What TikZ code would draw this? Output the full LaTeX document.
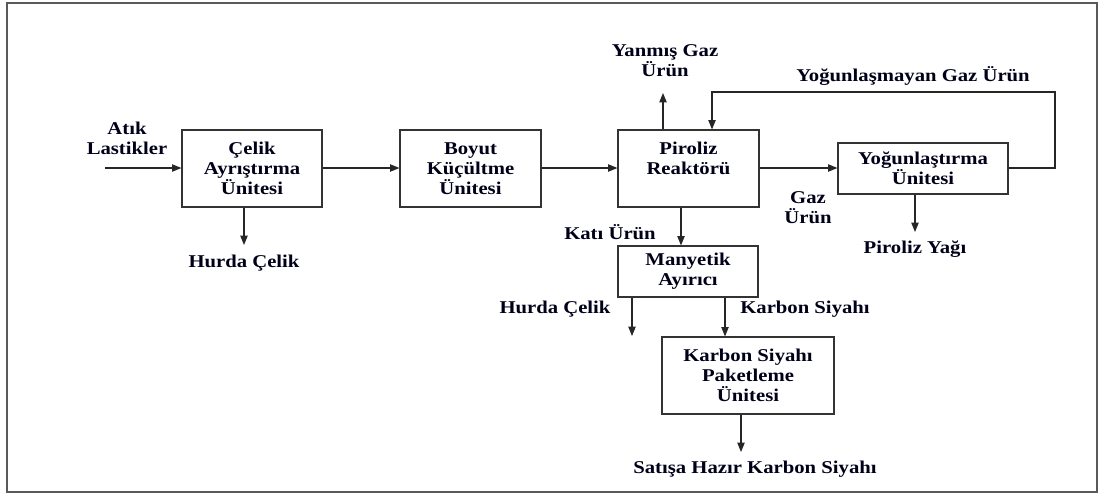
\documentclass[tikz,border=0pt]{standalone}
\usepackage{fontspec}
\setmainfont{Liberation Serif}[FakeStretch=1.15]
\usetikzlibrary{arrows.meta}
\newlength\pxu
\setlength\pxu{0.75pt}
\begin{document}
\begin{tikzpicture}[x=0.75pt,y=-0.75pt,
  every node/.style={font=\fontsize{13.5}{15}\selectfont\bfseries, text=black!90!blue, align=center, inner sep=0pt},
  unit/.style={draw=black!80, line width=0.9pt, fill=white},
  arr/.style={draw=black!85, line width=0.8pt, -{Triangle[length=7pt,width=5.5pt]}},
  lbl/.style={}]
\useasboundingbox (0,0) rectangle (1099,494);
\draw[black!65, line width=1pt] (7,3) rectangle (1097,492);

% units
\node[unit, minimum width=140\pxu, minimum height=77\pxu] (celik) at (252,168.5) {Çelik\\Ayrıştırma\\Ünitesi};
\node[unit, minimum width=141\pxu, minimum height=77\pxu] (boyut) at (470.5,168.5) {Boyut\\Küçültme\\Ünitesi};
\node[unit, minimum width=141\pxu, minimum height=77\pxu] (pir) at (688.5,168.5) {Piroliz\\Reaktörü\\\mbox{}};
\node[unit, minimum width=170\pxu, minimum height=51\pxu] (yog) at (923,168.5) {Yoğunlaştırma\\Ünitesi};
\node[unit, minimum width=140\pxu, minimum height=51\pxu] (many) at (688,271.5) {Manyetik\\Ayırıcı};
\node[unit, minimum width=172\pxu, minimum height=77\pxu] (ks) at (748,375.5) {Karbon Siyahı\\Paketleme\\Ünitesi};

% labels
\node[lbl] (atik) at (127,138) {Atık\\Lastikler};
\node[lbl] (hurda1) at (244,263) {Hurda Çelik};
\node[lbl] (yanmis) at (665,60.5) {Yanmış Gaz\\Ürün};
\node[lbl] (kati) at (610,232) {Katı Ürün};
\node[lbl] (gaz) at (808,208) {Gaz\\Ürün};
\node[lbl] (yogmayan) at (913,76) {Yoğunlaşmayan Gaz Ürün};
\node[lbl] (yag) at (915,249) {Piroliz Yağı};
\node[lbl] (hurda2) at (555,309) {Hurda Çelik};
\node[lbl] (karbon) at (805,309) {Karbon Siyahı};
\node[lbl] (satis) at (755,469) {Satışa Hazır Karbon Siyahı};

% free ends and turning points
\coordinate (in) at (105,168);
\coordinate (c1) at (244,245);
\coordinate (yanmisx) at (663,93);
\coordinate (katix) at (681,0);
\coordinate (fbR) at (1055,92);
\coordinate (fbL) at (712,92);
\coordinate (yagx) at (915,232);
\coordinate (h2) at (632,336);
\coordinate (kbx) at (725,0);
\coordinate (satx) at (741,452);

% connectors
\draw[arr] (in) -- (celik.west |- in);
\draw[arr] (celik.south -| c1) -- (c1);
\draw[arr] (celik.east |- in) -- (boyut.west |- in);
\draw[arr] (boyut.east |- in) -- (pir.west |- in);
\draw[arr] (pir.north -| yanmisx) -- (yanmisx);
\draw[arr] (pir.east |- in) -- (yog.west |- in);
\draw[arr] (yog.east |- in) -| (fbR) -- (fbL) -- (pir.north -| fbL);
\draw[arr] (yog.south -| yagx) -- (yagx);
\draw[arr] (pir.south -| katix) -- (many.north -| katix);
\draw[arr] (many.south -| h2) -- (h2);
\draw[arr] (many.south -| kbx) -- (ks.north -| kbx);
\draw[arr] (ks.south -| satx) -- (satx);
\end{tikzpicture}
\end{document}
